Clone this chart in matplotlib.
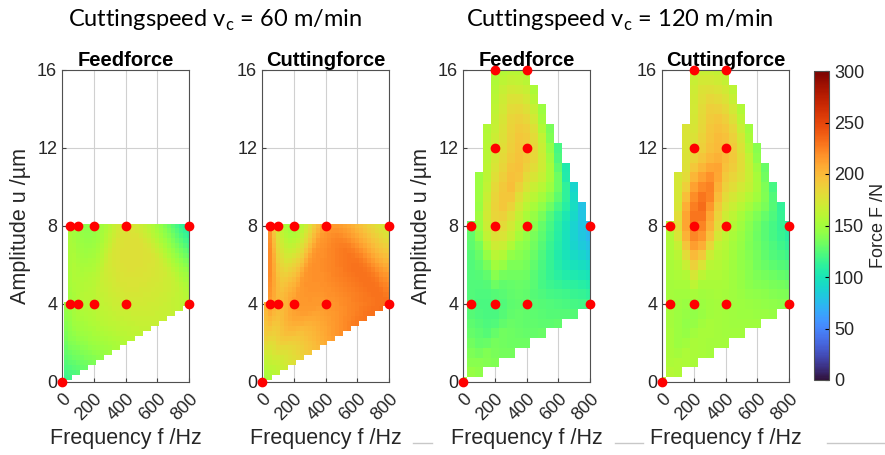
import numpy as np
import matplotlib.pyplot as plt
import matplotlib.tri as mtri
from matplotlib.lines import Line2D

# measurement points, cutting speed 60 m/min
f60 = [0, 50, 100, 200, 400, 800, 50, 100, 200, 400, 800]
u60 = [0, 4, 4, 4, 4, 4, 8, 8, 8, 8, 8]
feed60 = [112, 148, 155, 160, 170, 158, 152, 145, 142, 175, 105]
cut60 = [145, 212, 200, 212, 215, 230, 215, 172, 148, 212, 168]

# measurement points, cutting speed 120 m/min
f120 = [0, 50, 200, 400, 800, 50, 200, 400, 800, 200, 400, 200, 400]
u120 = [0, 4, 4, 4, 4, 8, 8, 8, 8, 12, 12, 16, 16]
feed120 = [150, 124, 122, 128, 118, 130, 182, 148, 72, 170, 192, 152, 155]
cut120 = [160, 150, 146, 150, 140, 158, 228, 165, 108, 180, 198, 165, 160]

speeds = ['60', '120']
xticks = [0, 200, 400, 600, 800]
yticks = [0, 4, 8, 12, 16]

W, H = 885, 455
fig = plt.figure(figsize=(W / 100, H / 100), dpi=100)
txt = '#262626'
plt.rcParams['font.family'] = ['Liberation Sans', 'DejaVu Sans']


def rect(x0, x1, y0, y1):
    return [x0 / W, 1 - y1 / H, (x1 - x0) / W, (y1 - y0) / H]


def panel(box, f, u, force, title, step_f, step_u, ylabel):
    ax = fig.add_axes(box)
    tri = mtri.Triangulation(np.array(f) / 100.0, np.array(u, dtype=float))
    interp = mtri.CubicTriInterpolator(tri, np.array(force, dtype=float), kind='geom')
    fg = np.arange(0, 800 + step_f / 2, step_f)
    ug = np.arange(0, 16 + step_u / 2, step_u)
    FF, UU = np.meshgrid(fg, ug)
    Z = interp(FF / 100.0, UU)
    m = ax.pcolormesh(fg, ug, Z, shading='nearest', cmap='turbo', vmin=0, vmax=300)
    ax.plot(f, u, 'o', color='red', ms=6, clip_on=False, zorder=5)
    ax.set_xlim(0, 800)
    ax.set_ylim(0, 16)
    ax.set_xticks(xticks)
    ax.set_yticks(yticks)
    ax.grid(True, color='#d0d0d0', lw=0.8)
    ax.set_axisbelow(True)
    ax.tick_params(direction='in', length=3, colors='#404040', labelcolor=txt, labelsize=13)
    ax.tick_params(axis='x', pad=6)
    for lab in ax.get_xticklabels():
        lab.set_rotation(45)
        lab.set_ha('right')
        lab.set_va('top')
        lab.set_rotation_mode('anchor')
    for s in ax.spines.values():
        s.set_color('#505050')
        s.set_linewidth(0.8)
    ax.set_title(title, fontsize=14.5, fontweight='bold', color='black', pad=2)
    ax.set_xlabel('Frequency f /Hz', fontsize=15.5, color=txt, labelpad=3)
    if ylabel:
        ax.set_ylabel('Amplitude u /\u00b5m', fontsize=15.5, color=txt, labelpad=4)
    return m


panel(rect(62, 189, 70, 382), f60, u60, feed60, 'Feedforce', 25, 0.25, True)
panel(rect(262, 389, 70, 382), f60, u60, cut60, 'Cuttingforce', 25, 0.25, False)
panel(rect(463, 590, 70, 382), f120, u120, feed120, 'Feedforce', 50, 0.5, True)
m = panel(rect(662, 789, 70, 382), f120, u120, cut120, 'Cuttingforce', 50, 0.5, False)

cax = fig.add_axes(rect(814, 829, 71, 380))
cb = fig.colorbar(m, cax=cax, ticks=[0, 50, 100, 150, 200, 250, 300])
cb.outline.set_edgecolor('#505050')
cb.ax.tick_params(direction='in', length=3, labelsize=13, labelcolor=txt)
cb.set_label('Force F /N', fontsize=13, color=txt)

for i, sp in enumerate(speeds):
    cx = [215, 620][i]
    fig.text(cx / W, 1 - 20 / H, 'Cuttingspeed v$_\\mathregular{c}$ = ' + sp + ' m/min',
             ha='center', va='center', fontsize=17, family='Lato', color='black')

for x0, x1 in [(413, 432), (615, 643), (827, 885)]:
    fig.add_artist(Line2D([x0 / W, x1 / W], [1 - 443 / H] * 2, color='#c8c8c8', lw=1))

fig.savefig('out.png', dpi=100)
